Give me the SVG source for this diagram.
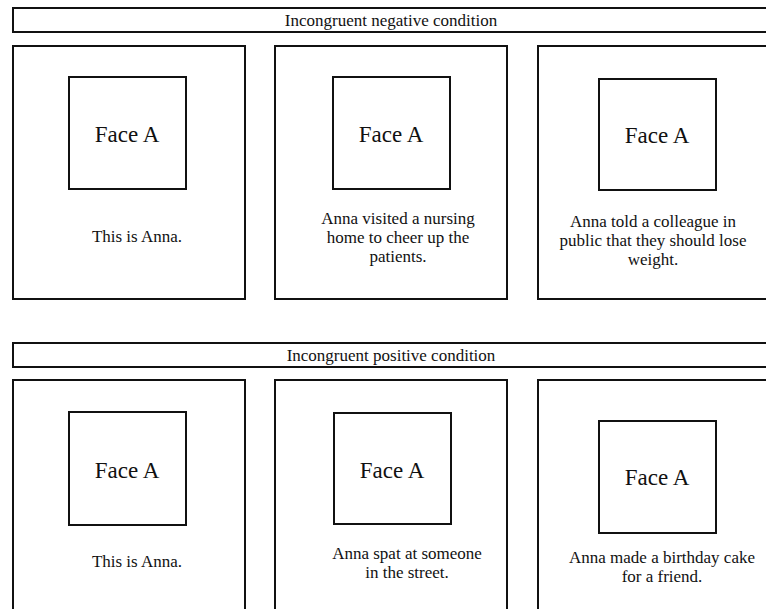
<svg xmlns="http://www.w3.org/2000/svg" width="766" height="609" viewBox="0 0 766 609">
<style>
.box{fill:#fff;stroke:#111;stroke-width:2}
.t{font-family:"Liberation Serif","Times New Roman",serif;font-size:17px;fill:#111;text-anchor:middle}
.f{font-family:"Liberation Serif","Times New Roman",serif;font-size:23px;fill:#111;text-anchor:middle}
</style>
<rect width="766" height="609" fill="#fff"/>
<g id="header-negative">
<rect class="box" x="13" y="8" width="760" height="24"/>
<text class="t" x="391" y="26">Incongruent negative condition</text>
</g>
<g id="neg-1">
<rect class="box" x="13" y="46" width="232" height="253"/>
<rect class="box" x="69" y="77" width="117" height="112"/>
<text class="f" x="127" y="142">Face A</text>
<text class="t" x="137" y="242">This is Anna.</text>
</g>
<g id="neg-2">
<rect class="box" x="275" y="46" width="232" height="253"/>
<rect class="box" x="333" y="77" width="117" height="112"/>
<text class="f" x="391" y="142">Face A</text>
<text class="t" x="398" y="224">Anna visited a nursing</text>
<text class="t" x="398" y="243">home to cheer up the</text>
<text class="t" x="398" y="262">patients.</text>
</g>
<g id="neg-3">
<rect class="box" x="538" y="46" width="240" height="253"/>
<rect class="box" x="599" y="79" width="117" height="111"/>
<text class="f" x="657" y="143">Face A</text>
<text class="t" x="653" y="227">Anna told a colleague in</text>
<text class="t" x="653" y="246">public that they should lose</text>
<text class="t" x="653" y="265">weight.</text>
</g>
<g id="header-positive">
<rect class="box" x="13" y="343" width="760" height="24"/>
<text class="t" x="391" y="361">Incongruent positive condition</text>
</g>
<g id="pos-1">
<rect class="box" x="13" y="380" width="232" height="240"/>
<rect class="box" x="69" y="412" width="117" height="113"/>
<text class="f" x="127" y="478">Face A</text>
<text class="t" x="137" y="567">This is Anna.</text>
</g>
<g id="pos-2">
<rect class="box" x="275" y="380" width="232" height="240"/>
<rect class="box" x="334" y="413" width="117" height="111"/>
<text class="f" x="392" y="478">Face A</text>
<text class="t" x="407" y="559">Anna spat at someone</text>
<text class="t" x="407" y="578">in the street.</text>
</g>
<g id="pos-3">
<rect class="box" x="538" y="380" width="240" height="240"/>
<rect class="box" x="599" y="421" width="117" height="112"/>
<text class="f" x="657" y="485">Face A</text>
<text class="t" x="662" y="563">Anna made a birthday cake</text>
<text class="t" x="662" y="582">for a friend.</text>
</g>
<g id="connectors"></g>
</svg>
